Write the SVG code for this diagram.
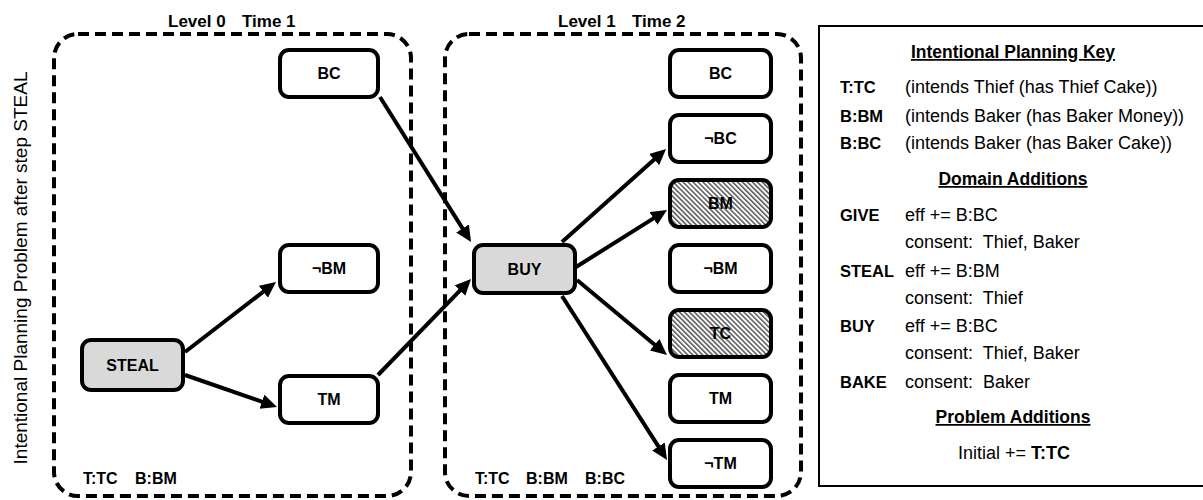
<svg xmlns="http://www.w3.org/2000/svg" width="1203" height="500" viewBox="0 0 1203 500">
  <style>
    text { font-family: "Liberation Sans", Arial, sans-serif; fill: #000; }
    .frame { fill: none; stroke: #000; stroke-width: 4; stroke-dasharray: 11 6; }
    .node { fill: #fff; stroke: #000; stroke-width: 4; }
    .action { fill: #d9d9d9; stroke: #000; stroke-width: 4; }
    .hatched { fill: url(#hatch); stroke: #000; stroke-width: 4; }
    .lbl { font-size: 16px; font-weight: bold; text-anchor: middle; }
    .title { font-size: 17px; font-weight: bold; }
    .state { font-size: 16px; font-weight: bold; }
    .edge { stroke: #000; stroke-width: 4; fill: none; marker-end: url(#arrow); }
    .key { font-size: 18px; }
    .kb { font-size: 16.5px; font-weight: bold; }
    .head { font-size: 17.5px; font-weight: bold; text-anchor: middle; text-decoration: underline; }
    .side { font-size: 19px; text-anchor: middle; }
  </style>
  <defs>
    <pattern id="hatch" patternUnits="userSpaceOnUse" width="3.5" height="3.5" patternTransform="rotate(-45)">
      <rect width="3.5" height="3.5" fill="#fff"/>
      <line x1="0.8" y1="0" x2="0.8" y2="3.5" stroke="#3a3a3a" stroke-width="1.3"/>
    </pattern>
    <marker id="arrow" markerUnits="userSpaceOnUse" markerWidth="18" markerHeight="16" refX="2" refY="7.5" orient="auto">
      <path d="M0,0 L16,7.5 L0,15 z" fill="#000"/>
    </marker>
  </defs>

  <rect width="1203" height="500" fill="#fff"/>

  <!-- side caption -->
  <text class="side" transform="translate(27,268) rotate(-90)">Intentional Planning Problem after step STEAL</text>

  <!-- level 0 frame -->
  <g id="level0">
    <rect class="frame" x="54" y="34" width="357" height="462" rx="24" ry="24"/>
    <text class="title" x="168" y="27">Level 0</text>
    <text class="title" x="242" y="27">Time 1</text>
    <text class="state" x="83" y="484">T:TC</text>
    <text class="state" x="135" y="484">B:BM</text>
  </g>

  <!-- level 1 frame -->
  <g id="level1">
    <rect class="frame" x="445" y="34" width="356" height="462" rx="24" ry="24"/>
    <text class="title" x="558" y="27">Level 1</text>
    <text class="title" x="632" y="27">Time 2</text>
    <text class="state" x="475" y="484">T:TC</text>
    <text class="state" x="526" y="484">B:BM</text>
    <text class="state" x="585" y="484">B:BC</text>
  </g>

  <!-- connectors -->
  <g id="connectors">
    <line class="edge" x1="380" y1="97" x2="463.6" y2="230.1"/>
    <line class="edge" x1="185" y1="352" x2="264.9" y2="290.5"/>
    <line class="edge" x1="185" y1="375" x2="263.8" y2="402.4"/>
    <line class="edge" x1="378" y1="375" x2="461.3" y2="289.1"/>
    <line class="edge" x1="562" y1="242" x2="655.6" y2="158.3"/>
    <line class="edge" x1="576" y1="267" x2="655.1" y2="217.4"/>
    <line class="edge" x1="577" y1="280" x2="656.2" y2="346"/>
    <line class="edge" x1="562" y1="296" x2="659.5" y2="448.2"/>
  </g>

  <!-- level 0 nodes -->
  <g id="l0-BC"><rect class="node" x="280" y="50" width="98" height="47" rx="9"/><text class="lbl" x="329" y="79">BC</text></g>
  <g id="l0-notBM"><rect class="node" x="280" y="245" width="98" height="47" rx="9"/><text class="lbl" x="329" y="274">¬BM</text></g>
  <g id="l0-TM"><rect class="node" x="280" y="376" width="98" height="47" rx="9"/><text class="lbl" x="329" y="405">TM</text></g>
  <g id="l0-STEAL"><rect class="action" x="82" y="340" width="101" height="50" rx="9"/><text class="lbl" x="132.5" y="371">STEAL</text></g>

  <!-- level 1 nodes -->
  <g id="l1-BUY"><rect class="action" x="474" y="245" width="101" height="48" rx="9"/><text class="lbl" x="524.5" y="275">BUY</text></g>
  <g id="l1-BC"><rect class="node" x="670" y="50" width="101" height="47" rx="9"/><text class="lbl" x="720.5" y="79">BC</text></g>
  <g id="l1-notBC"><rect class="node" x="670" y="115" width="101" height="47" rx="9"/><text class="lbl" x="720.5" y="144">¬BC</text></g>
  <g id="l1-BM"><rect class="hatched" x="670" y="180" width="101" height="47" rx="9"/><text class="lbl" x="720.5" y="209">BM</text></g>
  <g id="l1-notBM"><rect class="node" x="670" y="245" width="101" height="47" rx="9"/><text class="lbl" x="720.5" y="274">¬BM</text></g>
  <g id="l1-TC"><rect class="hatched" x="670" y="310" width="101" height="47" rx="9"/><text class="lbl" x="720.5" y="339">TC</text></g>
  <g id="l1-TM"><rect class="node" x="670" y="375" width="101" height="47" rx="9"/><text class="lbl" x="720.5" y="404">TM</text></g>
  <g id="l1-notTM"><rect class="node" x="670" y="440" width="101" height="47" rx="9"/><text class="lbl" x="720.5" y="469">¬TM</text></g>

  <!-- key panel -->
  <g id="key">
    <rect x="819" y="26" width="400" height="460" fill="#fff" stroke="#000" stroke-width="2"/>
    <text class="head" x="1013" y="58">Intentional Planning Key</text>
    <text class="kb" x="840" y="93">T:TC</text>
    <text class="key" x="905" y="93">(intends Thief (has Thief Cake))</text>
    <text class="kb" x="840" y="122">B:BM</text>
    <text class="key" x="905" y="122">(intends Baker (has Baker Money))</text>
    <text class="kb" x="840" y="149">B:BC</text>
    <text class="key" x="905" y="149">(intends Baker (has Baker Cake))</text>

    <text class="head" x="1013" y="185">Domain Additions</text>
    <text class="kb" x="840" y="221">GIVE</text>
    <text class="key" x="905" y="221">eff += B:BC</text>
    <text class="key" x="905" y="248" xml:space="preserve">consent:  Thief, Baker</text>
    <text class="kb" x="840" y="277">STEAL</text>
    <text class="key" x="905" y="277">eff += B:BM</text>
    <text class="key" x="905" y="304" xml:space="preserve">consent:  Thief</text>
    <text class="kb" x="840" y="332">BUY</text>
    <text class="key" x="905" y="332">eff += B:BC</text>
    <text class="key" x="905" y="359" xml:space="preserve">consent:  Thief, Baker</text>
    <text class="kb" x="840" y="388">BAKE</text>
    <text class="key" x="905" y="388" xml:space="preserve">consent:  Baker</text>

    <text class="head" x="1013" y="423">Problem Additions</text>
    <text class="key" x="958" y="459" xml:space="preserve">Initial += <tspan font-weight="bold">T:TC</tspan></text>
  </g>
</svg>
